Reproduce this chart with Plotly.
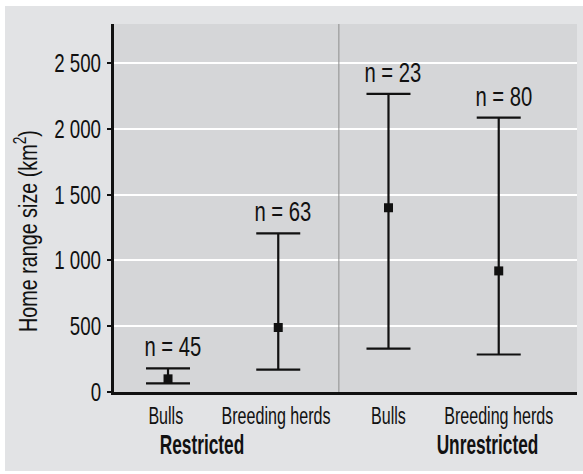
import json
import plotly.graph_objects as go

# Home range size by group (km²): mean with lower/upper range
categories = ["Bulls ", "Breeding herds ", "Bulls", "Breeding herds"]
means = [100, 490, 1400, 920]
upper = [180, 1205, 2265, 2085]
lower = [65, 170, 330, 285]
sample_sizes = [45, 63, 23, 80]

groups = ["Restricted", "Unrestricted"]
group_pos = [0.31, 2.9]

y_tickvals = [0, 500, 1000, 1500, 2000, 2500]
y_ticktext = ["0", "500", "1 000", "1 500", "2 000", "2 500"]

FONT = "Liberation Sans, Arial, sans-serif"
INK = "#111111"
PAPER = "#e2e3e5"
PANEL = "#d5d6d8"

W, H = 583, 474
ML, MR, MT, MB = 114, 6, 24, 82
PW, PH = W - ML - MR, H - MT - MB

err_plus = [u - m for u, m in zip(upper, means)]
err_minus = [m - l for m, l in zip(means, lower)]

fig = go.Figure()
fig.add_trace(go.Scatter(
    x=categories, y=means, mode="markers",
    marker=dict(symbol="square", size=9, color=INK),
    error_y=dict(type="data", symmetric=False, array=err_plus, arrayminus=err_minus,
                 color=INK, thickness=2.2, width=22),
    showlegend=False, hoverinfo="skip",
))

# sample size labels above each whisker
for c, u, n in zip(categories, upper, sample_sizes):
    fig.add_annotation(x=c, y=u, text=f"n = {n}", showarrow=False,
                       xshift=5, yshift=21, yanchor="middle",
                       font=dict(family=FONT, size=27, color=INK))

# group labels below the category labels
for g, p in zip(groups, group_pos):
    fig.add_annotation(x=p, xref="x", y=-(445 - (H - MB)) / PH, yref="paper",
                       text=g, showarrow=False, yanchor="middle",
                       font=dict(family=FONT, size=27, color=INK, weight="bold"))

# y-axis title
fig.add_annotation(x=(26 - ML) / PW, xref="paper", y=(H - MB - 231) / PH, yref="paper",
                   text="Home range size (km<sup>2</sup>)", textangle=-90,
                   showarrow=False, xanchor="center", yanchor="middle",
                   font=dict(family=FONT, size=26, color=INK))

# divider between restricted and unrestricted
fig.add_shape(type="line", xref="x", yref="paper", x0=1.55, x1=1.55, y0=0, y1=1,
              line=dict(color="#8c8c8c", width=1))

# thin white border strips around the panel
def strip(x0, x1, y0, y1):
    fig.add_shape(type="rect", xref="paper", yref="paper",
                  x0=(x0 - ML) / PW, x1=(x1 - ML) / PW,
                  y0=(H - MB - y1) / PH, y1=(H - MB - y0) / PH,
                  fillcolor="white", line=dict(width=0), layer="above")

strip(0, 5, 0, H)
strip(0, W, 0, 6)
strip(0, W, H - 3, H)

fig.update_layout(
    width=W, height=H,
    margin=dict(l=ML, r=MR, t=MT, b=MB, autoexpand=False),
    paper_bgcolor=PAPER, plot_bgcolor=PANEL,
    font=dict(family=FONT, color=INK),
    xaxis=dict(type="category", range=[-0.49, 3.71], showgrid=False,
               showline=True, linecolor=INK, linewidth=3, ticks="",
               tickangle=0, automargin=False,
               tickfont=dict(family=FONT, size=24, color=INK), ticklabelstandoff=0,
               zeroline=False),
    yaxis=dict(range=[0, 2796], tickvals=y_tickvals, ticktext=y_ticktext,
               showgrid=True, gridcolor="white", gridwidth=1.6,
               showline=True, linecolor=INK, linewidth=2.5, automargin=False,
               ticks="outside", ticklen=4, tickwidth=2, tickcolor=INK,
               tickfont=dict(family=FONT, size=26, color=INK), ticklabelstandoff=1,
               zeroline=False),
)

# Condensed lettering: squeeze each text horizontally about its own anchor point.
squeeze = {"xtick": 0.67, "ytick": 0.72, "n =": 0.75, "Home": 0.76, "stricted": 0.64}
condense_js = """
var gd = document.getElementById('{plot_id}');
var sq = %s;
gd.querySelectorAll('svg text').forEach(function (t) {
  var s = null;
  var g = t.closest('.xtick, .ytick');
  if (g) { s = sq[g.classList.contains('xtick') ? 'xtick' : 'ytick']; }
  else {
    Object.keys(sq).forEach(function (k) {
      if (k.indexOf('tick') < 0 && t.textContent.indexOf(k) >= 0) { s = sq[k]; }
    });
  }
  if (!s) { return; }
  var x = parseFloat(t.getAttribute('x') || 0), y = parseFloat(t.getAttribute('y') || 0);
  var tr = t.getAttribute('transform') || '';
  t.setAttribute('transform', tr + ' translate(' + x + ',' + y + ') scale(' + s + ',1) translate(' + (-x) + ',' + (-y) + ')');
});
""" % json.dumps(squeeze)

fig.write_html("out.html", post_script=condense_js)
